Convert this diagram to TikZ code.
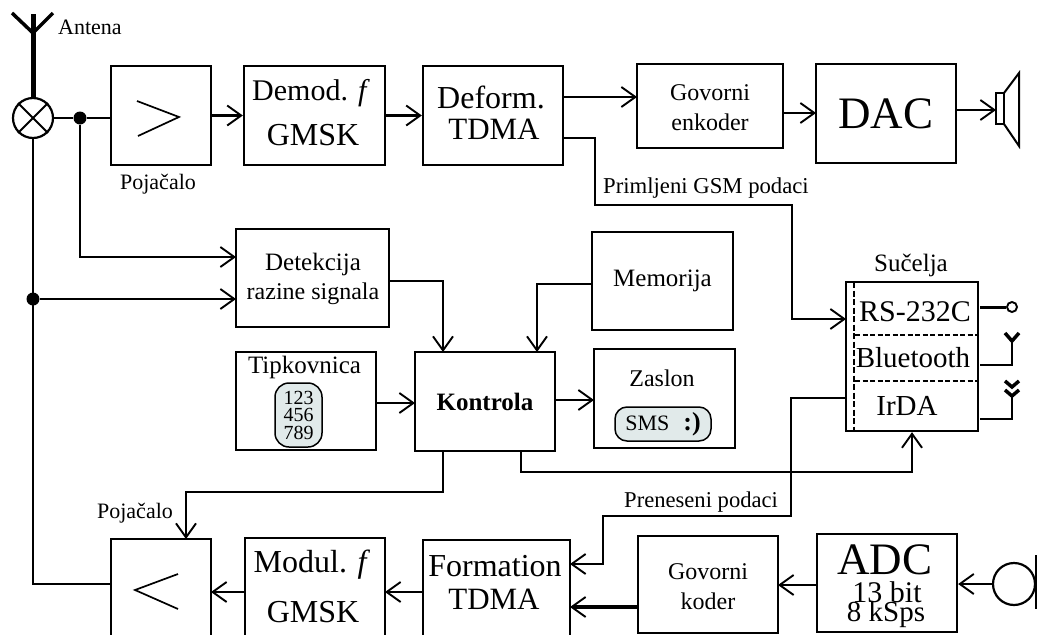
\documentclass[tikz,border=0pt]{standalone}
\usepackage{fontspec}
\setmainfont{Liberation Serif}
\usetikzlibrary{arrows.meta}
\definecolor{sivo}{HTML}{E1EAEA}
\tikzset{
  blok/.style={draw,line width=2.3pt,inner sep=0pt,align=center},
  natpis/.style={inner sep=0pt,align=center},
  vel/.style={font=\fontsize{#1}{#1}\selectfont},
  veza/.style={line width=2.2pt,line join=miter},
  strelica/.style={veza,-{Straight Barb[length=14pt,width=20pt,line width=1.9pt]}},
  debela/.style={strelica,line width=3.6pt},
  tocka/.style={fill,circle,inner sep=0pt,minimum size=13pt},
  oblo/.style={draw,line width=1.5pt,fill=sivo,inner sep=0pt,align=center},
}
\begin{document}
\begin{tikzpicture}[x=1pt,y=-1pt]
\useasboundingbox (0,0) rectangle (1037,635);
% gornji red
\node[blok,minimum width=100pt,minimum height=99pt] (pojA) at (161,115.5) {};
\node[blok,minimum width=141pt,minimum height=99pt] (demod) at (314.5,115.5) {};
\node[natpis,vel=30] at (311,93) (demodT) {Demod. \textit{f}};
\node[natpis,vel=32] at (313,135) (gmskA) {GMSK};
\node[blok,minimum width=140pt,minimum height=99pt] (deform) at (493,115.5) {};
\node[natpis,vel=32] at (491,97) (deformT) {Deform.};
\node[natpis,vel=31] at (494,129) (tdmaA) {TDMA};
\node[blok,minimum width=146pt,minimum height=84pt] (enkoder) at (710,106) {};
\node[natpis,vel=24] at (710,93) (govA) {Govorni};
\node[natpis,vel=24] at (710,122) (enkT) {enkoder};
\node[blok,font=\fontsize{45}{45}\selectfont,minimum width=140pt,minimum height=99pt] (dac) at (886,113.5) {DAC};
% srednji dio
\node[blok,minimum width=153pt,minimum height=98pt] (detekcija) at (312.5,278) {};
\node[natpis,vel=25] at (313,264) (detT) {Detekcija};
\node[natpis,vel=24] at (313,294) (razT) {razine signala};
\node[blok,vel=25,minimum width=141pt,minimum height=98pt] (memorija) at (662.5,281) {Memorija};
\node[blok,minimum width=140pt,minimum height=98pt] (tipkovnica) at (306,401) {};
\node[natpis,vel=25] at (304.5,367) (tipT) {Tipkovnica};
\node[oblo,rounded corners=14pt,minimum width=47pt,minimum height=64pt,font=\fontsize{20}{17.5}\selectfont] (tipke) at (298.5,415) {123\\456\\789};
\node[blok,font=\fontsize{25}{25}\selectfont\bfseries,minimum width=140pt,minimum height=99pt] (kontrola) at (485,401.5) {Kontrola};
\node[blok,minimum width=141pt,minimum height=99pt] (zaslon) at (664.5,398.5) {};
\node[natpis,vel=24] at (662,378) (zasT) {Zaslon};
\node[oblo,rounded corners=12pt,vel=22,minimum width=96pt,minimum height=34pt] (sms) at (663,424) {SMS\hspace{14pt}{\fontsize{26}{26}\selectfont\bfseries :)}};
% sucelja
\node[blok,minimum width=132pt,minimum height=149pt] (sucelja) at (912,356.5) {};
\node[natpis,vel=25] at (911,265) (sucT) {Sučelja};
\node[natpis,vel=30] at (915,312) (rs) {RS-232C};
\node[natpis,vel=29] at (913,358) (blue) {Bluetooth};
\node[natpis,vel=29] at (907,406) (irda) {IrDA};
\coordinate (sA) at (854,282);
\coordinate (sB) at (854,431);
\coordinate (sC) at (855,335);
\coordinate (sD) at (978,335);
\coordinate (sE) at (855,381);
\coordinate (sF) at (978,381);
\draw[line width=2pt,dash pattern=on 6pt off 2.5pt] (sA) -- (sB);
\draw[line width=1.6pt,dash pattern=on 5pt off 2.5pt] (sC) -- (sD);
\draw[line width=1.6pt,dash pattern=on 5pt off 2.5pt] (sE) -- (sF);
% donji red
\node[blok,minimum width=100pt,minimum height=110pt] (pojB) at (161,594) {};
\node[blok,minimum width=140pt,minimum height=110pt] (modul) at (315,593) {};
\node[natpis,vel=32] at (312,565) (modT) {Modul. \textit{f}};
\node[natpis,vel=32] at (313,612) (gmskB) {GMSK};
\node[blok,minimum width=147pt,minimum height=110pt] (formation) at (496.5,595) {};
\node[natpis,vel=32] at (495,566) (forT) {Formation};
\node[natpis,vel=31] at (494,599) (tdmaB) {TDMA};
\node[blok,minimum width=140pt,minimum height=97pt] (koder) at (708,584.5) {};
\node[natpis,vel=24] at (708,572) (govB) {Govorni};
\node[natpis,vel=24] at (708,601) (kodT) {koder};
\node[blok,minimum width=140pt,minimum height=98pt] (adc) at (887,583) {};
\node[natpis,vel=45] at (885,560) (adcT) {ADC};
\node[natpis,vel=30] at (887,592) (bit) {13 bit};
\node[natpis,vel=29] at (886,615) (ksps) {8 kSps};
% natpisi
\node[natpis,vel=22,anchor=west] at (58,27) (antena) {Antena};
\node[natpis,vel=22] at (158,184) (pojL) {Pojačalo};
\node[natpis,vel=22] at (135,513) (pojM) {Pojačalo};
\node[natpis,vel=22.7,anchor=west] at (603,188) (primT) {Primljeni GSM podaci};
\node[natpis,vel=22.6,anchor=west] at (624,502) (prenT) {Preneseni podaci};
% antena i mijesalo
\node[draw,circle,line width=2.2pt,minimum size=40pt,inner sep=0pt] (mix) at (33,118) {};
\draw[line width=1.8pt] (mix.north west) -- (mix.south east);
\draw[line width=1.8pt] (mix.north east) -- (mix.south west);
\coordinate (antG) at (33,14);
\coordinate (antS) at (33,33);
\coordinate (antL) at (12,13);
\coordinate (antD) at (53,13);
\draw[line width=5pt] (mix.north) -- (antG);
\draw[line width=3.5pt] (antL) -- (antS) -- (antD);
\node[tocka] (t1) at (80,118) {};
\node[tocka] (t2) at (33,299) {};
\draw[veza] (mix.east) -- (t1) -- (pojA.west |- t1);
\coordinate (g1) at (80,257);
\coordinate (g2) at (236,257);
\draw[strelica] (t1) -- (g1) -- (g2);
\coordinate (g3) at (236,299);
\draw[strelica] (t2) -- (g3);
\coordinate (g4) at (33,584);
\coordinate (g5) at (111,584);
\draw[veza] (mix.south) -- (g4) -- (g5);
% gornje veze
\coordinate (symA1) at (137,101);
\coordinate (symA2) at (179,117);
\coordinate (symA3) at (138,136);
\draw[line width=1.7pt] (symA1) -- (symA2) -- (symA3);
\draw[strelica] (pojA) -- (demod);
\draw[debela] (demod) -- (deform);
\coordinate (d1) at (563,97);
\coordinate (d2) at (637,97);
\draw[strelica] (d1) -- (d2);
\coordinate (e1) at (783,113);
\coordinate (e2) at (816,113);
\draw[strelica] (e1) -- (e2);
\coordinate (d3) at (563,138);
\coordinate (d4) at (595,138);
\coordinate (d5) at (595,205);
\coordinate (d6) at (792,205);
\coordinate (d7) at (792,319);
\coordinate (d8) at (846,319);
\draw[strelica] (d3) -- (d4) -- (d5) -- (d6) -- (d7) -- (d8);
% zvucnik
\coordinate (zv1) at (996,93);
\coordinate (zv2) at (1004,124);
\coordinate (zv3) at (1004,93);
\coordinate (zv4) at (1019,73);
\coordinate (zv5) at (1019,146);
\coordinate (zv6) at (996,110);
\coordinate (zv7) at (956,110);
\draw[line width=2pt] (zv1) rectangle (zv2);
\draw[line width=2pt] (zv3) -- (zv4) -- (zv5) -- (zv2);
\draw[strelica] (zv7) -- (zv6);
% srednje veze
\coordinate (k1) at (443,281);
\coordinate (k2) at (443,352);
\draw[strelica] (detekcija.east |- k1) -- (k1) -- (k2);
\coordinate (k3) at (537,284);
\coordinate (k4) at (537,352);
\draw[strelica] (memorija.west |- k3) -- (k3) -- (k4);
\coordinate (t3) at (376,403);
\coordinate (t4) at (415,403);
\draw[strelica] (t3) -- (t4);
\coordinate (t5) at (555,400);
\coordinate (t6) at (594,400);
\draw[strelica] (t5) -- (t6);
\coordinate (k5) at (443,451);
\coordinate (k6) at (443,492);
\coordinate (k7) at (186,492);
\coordinate (k8) at (186,539);
\draw[strelica] (k5) -- (k6) -- (k7) -- (k8);
\coordinate (k9) at (521,451);
\coordinate (k10) at (521,472);
\coordinate (k11) at (912,472);
\draw[strelica] (k9) -- (k10) -- (k11) -- (sucelja.south);
\coordinate (i1) at (846,398);
\coordinate (i2) at (791,398);
\coordinate (i3) at (791,516);
\coordinate (i4) at (603,516);
\coordinate (i5) at (603,564);
\coordinate (i6) at (570,564);
\draw[strelica] (i1) -- (i2) -- (i3) -- (i4) -- (i5) -- (i6);
% izlazi sucelja
\coordinate (r1) at (980,307);
\node[draw,circle,line width=1.9pt,minimum size=10pt,inner sep=0pt] (konektor) at (1012,307) {};
\draw[line width=3pt] (r1) -- (konektor.west);
\coordinate (b1) at (980,365);
\coordinate (b2) at (1012,365);
\coordinate (b3) at (1012,341);
\coordinate (b4) at (1005,333);
\coordinate (b5) at (1019,333);
\draw[veza] (b1) -- (b2) -- (b3);
\draw[line width=3.5pt] (b4) -- (b3) -- (b5);
\coordinate (c1) at (980,419);
\coordinate (c2) at (1012,419);
\coordinate (c3) at (1012,396);
\coordinate (c4) at (1005,381);
\coordinate (c5) at (1012,387);
\coordinate (c6) at (1019,381);
\coordinate (c7) at (1005,390);
\coordinate (c8) at (1019,390);
\draw[veza] (c1) -- (c2) -- (c3);
\draw[line width=3.5pt] (c4) -- (c5) -- (c6);
\draw[line width=3.5pt] (c7) -- (c3) -- (c8);
% donje veze
\coordinate (symB1) at (178,574);
\coordinate (symB2) at (135,590);
\coordinate (symB3) at (178,609);
\draw[line width=1.7pt] (symB1) -- (symB2) -- (symB3);
\coordinate (f1) at (423,592);
\coordinate (f2) at (385,592);
\draw[strelica] (f1) -- (f2);
\coordinate (f3) at (245,592);
\coordinate (f4) at (211,592);
\draw[strelica] (f3) -- (f4);
\coordinate (f5) at (638,607);
\coordinate (f6) at (570,607);
\draw[debela] (f5) -- (f6);
\coordinate (f7) at (817,585);
\coordinate (f8) at (778,585);
\draw[strelica,line width=2.8pt] (f7) -- (f8);
% mikrofon
\node[draw,circle,line width=2.2pt,minimum size=42pt,inner sep=0pt] (mic) at (1014,584) {};
\coordinate (m1) at (1036,555);
\coordinate (m2) at (1036,609);
\draw[line width=2.2pt] (m1) -- (m2);
\draw[strelica] (mic.west) -- (adc.east |- mic.west);
\end{tikzpicture}
\end{document}
